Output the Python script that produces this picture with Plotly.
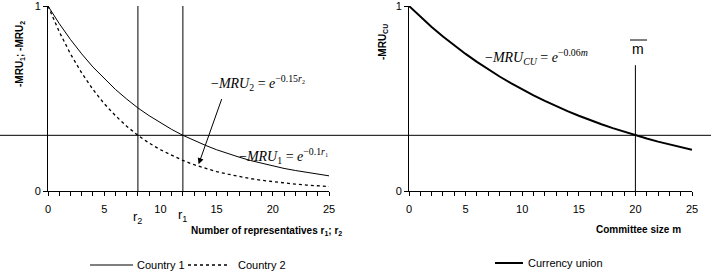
import plotly.graph_objects as go

# ---- data ----
reps = list(range(0, 26))
country1 = [1.000, 0.905, 0.819, 0.741, 0.670, 0.607, 0.549, 0.497, 0.449, 0.407,
            0.368, 0.333, 0.301, 0.273, 0.247, 0.223, 0.202, 0.183, 0.165, 0.150,
            0.135, 0.122, 0.111, 0.100, 0.091, 0.082]
country2 = [1.000, 0.861, 0.741, 0.638, 0.549, 0.472, 0.407, 0.350, 0.301, 0.259,
            0.223, 0.192, 0.165, 0.142, 0.122, 0.105, 0.091, 0.078, 0.067, 0.058,
            0.050, 0.043, 0.037, 0.032, 0.027, 0.024]
committee = list(range(0, 26))
currency_union = [1.000, 0.942, 0.887, 0.835, 0.787, 0.741, 0.698, 0.657, 0.619, 0.583,
                  0.549, 0.517, 0.487, 0.458, 0.432, 0.407, 0.383, 0.361, 0.340, 0.320,
                  0.301, 0.284, 0.267, 0.252, 0.237, 0.223]
threshold = 0.301
r1_val, r2_val = 12, 8
m_bar = 20
x_ticks = [0, 5, 10, 15, 20, 25]
y_ticks = [0, 1]

W, H = 711, 277
SANS = "Liberation Sans, Arial, sans-serif"
SERIF = "Liberation Serif, Times New Roman, serif"

def px(x):
    return x / W

def py(y):
    return 1 - y / H

fig = go.Figure()
fig.add_trace(go.Scatter(x=reps, y=country1, mode="lines", name="Country 1",
                         line=dict(color="black", width=1), xaxis="x", yaxis="y"))
fig.add_trace(go.Scatter(x=reps, y=country2, mode="lines", name="Country 2",
                         line=dict(color="black", width=1.3, dash="dot"), xaxis="x", yaxis="y"))
fig.add_trace(go.Scatter(x=committee, y=currency_union, mode="lines", name="Currency union",
                         line=dict(color="black", width=2), xaxis="x2", yaxis="y2"))

axis_common = dict(range=[0, 25], showline=True, linecolor="black", linewidth=1,
                   ticks="outside", ticklen=4, tickcolor="black", tickvals=x_ticks,
                   showgrid=False, zeroline=False, automargin=False, ticklabeloverflow="allow",
                   ticklabelstandoff=4,
                   tickfont=dict(family=SANS, size=11, color="black"),
                   minor=dict(dtick=1, ticks="outside", ticklen=4, tickcolor="black", showgrid=False))
yaxis_common = dict(range=[0, 1], showline=True, linecolor="black", linewidth=1,
                    ticks="outside", ticklen=4, tickcolor="black", tickvals=y_ticks,
                    showgrid=False, zeroline=False, automargin=False, ticklabeloverflow="allow",
                    tickfont=dict(family=SANS, size=11, color="black"))

fig.update_layout(
    width=W, height=H, margin=dict(l=0, r=0, t=0, b=0, autoexpand=False),
    paper_bgcolor="white", plot_bgcolor="white", showlegend=False,
    xaxis=dict(domain=[px(48), px(329)], anchor="y", **axis_common),
    yaxis=dict(domain=[py(191), py(6)], anchor="x", **yaxis_common),
    xaxis2=dict(domain=[px(409), px(692)], anchor="y2", **axis_common),
    yaxis2=dict(domain=[py(191), py(6)], anchor="x2", **yaxis_common),
)

shapes = [
    dict(type="line", xref="paper", yref="y", x0=0, x1=1, y0=threshold, y1=threshold,
         line=dict(color="black", width=1)),
    dict(type="line", xref="x", yref="y", x0=r2_val, x1=r2_val, y0=0, y1=1,
         line=dict(color="black", width=1)),
    dict(type="line", xref="x", yref="y", x0=r1_val, x1=r1_val, y0=0, y1=1,
         line=dict(color="black", width=1)),
    dict(type="line", xref="x2", yref="y2", x0=m_bar, x1=m_bar, y0=0, y1=0.68,
         line=dict(color="black", width=1)),
    # overline for m-bar
    dict(type="line", xref="paper", yref="paper", x0=px(630), x1=px(647), y0=py(40), y1=py(40),
         line=dict(color="black", width=1)),
    # legend samples
    dict(type="line", xref="paper", yref="paper", x0=px(90), x1=px(133), y0=py(265), y1=py(265),
         line=dict(color="black", width=1)),
    dict(type="line", xref="paper", yref="paper", x0=px(188), x1=px(229), y0=py(265), y1=py(265),
         line=dict(color="black", width=1.3, dash="dot")),
    dict(type="line", xref="paper", yref="paper", x0=px(495), x1=px(523), y0=py(263), y1=py(263),
         line=dict(color="black", width=2)),
]
fig.update_layout(shapes=shapes)

ann = []
def paper_text(x, y, text, size=11, xanchor="center", family=SANS, angle=0, bold=False):
    ann.append(dict(xref="paper", yref="paper", x=px(x), y=py(y), text=("<b>%s</b>" % text) if bold else text,
                    showarrow=False, xanchor=xanchor, yanchor="middle", textangle=angle,
                    font=dict(family=family, size=size, color="black")))

# axis titles
paper_text(20, 54, "-MRU<sub>1</sub>; -MRU<sub>2</sub>", size=10, angle=-90, bold=True)
paper_text(383, 42, "-MRU<sub>CU</sub>", size=10, angle=-90, bold=True)
paper_text(344, 231, "Number of representatives r<sub>1</sub>; r<sub>2</sub>", size=10, xanchor="right", bold=True)
paper_text(683, 229, "Committee size m", size=10, xanchor="right", bold=True)
# r labels
paper_text(137, 217, "r<sub>2</sub>", size=13)
paper_text(182, 215, "r<sub>1</sub>", size=13)
paper_text(638, 49, "m", size=14)
# formulas
paper_text(209, 83, "−<i>MRU</i><sub>2</sub> = <i>e</i><sup>−0.15<i>r</i>₂</sup>", size=14, xanchor="left", family=SERIF)
paper_text(237, 156, "−<i>MRU</i><sub>1</sub> = <i>e</i><sup>−0.1<i>r</i>₁</sup>", size=14, xanchor="left", family=SERIF)
paper_text(483, 57, "−<i>MRU</i><sub><i>CU</i></sub> = <i>e</i><sup>−0.06<i>m</i></sup>", size=14, xanchor="left", family=SERIF)
# legend texts
paper_text(135, 265, "Country 1", size=11, xanchor="left")
paper_text(236, 265, "Country 2", size=11, xanchor="left")
paper_text(526, 263, "Currency union", size=11, xanchor="left")

# arrow
ann.append(dict(xref="x", yref="y", axref="x", ayref="y", x=13.4, y=0.145, ax=15.5, ay=0.505,
                text="", showarrow=True, arrowhead=2, arrowsize=1.2, arrowwidth=1, arrowcolor="black"))

fig.update_layout(annotations=ann)
fig.write_html("out.html", config={"displayModeBar": False},
               post_script="document.body.style.margin='0';")
